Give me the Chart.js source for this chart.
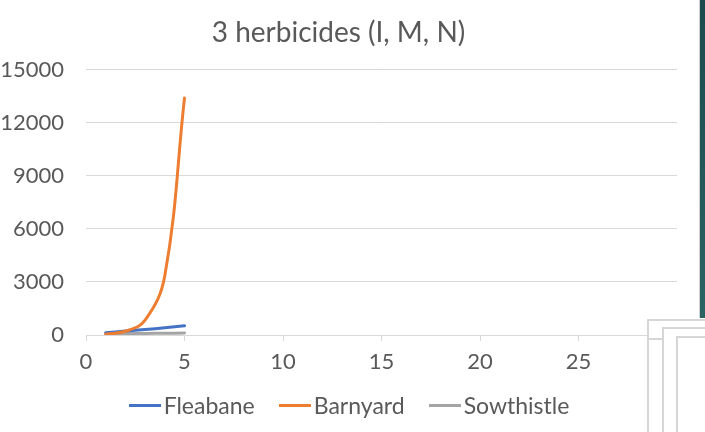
<!DOCTYPE html>
<html>
<head>
<meta charset="utf-8">
<script src="https://cdn.jsdelivr.net/npm/chart.js@4.4.1/dist/chart.umd.min.js"></script>
<style>
	body { margin: 0; background: #fff; }
	#wrap { position: relative; width: 705px; height: 432px; overflow: hidden; background: #fff; }
	#chartBox { position: absolute; left: 0; top: 0; width: 698px; height: 432px; }
	#legend-container { position: absolute; left: 0; top: 391px; width: 698px; }
	.strip { position: absolute; left: 699px; top: 0; width: 6px; height: 318px;
		border-left: 1px solid #cfcfcf; box-sizing: border-box;
		background: linear-gradient(#1c4a4c, #2b6363); }
	.frame { position: absolute; background: #fff; border: 2px solid #d6d6d6; border-right: none; border-bottom: none; }
</style>
</head>
<body>
<div id="wrap">
	<div id="chartBox"><canvas id="lineChart"></canvas></div>
	<div id="legend-container"></div>
	<div class="strip"></div>
	<div class="frame" style="left:647px;top:319px;width:70px;height:120px;"></div>
	<div style="position:absolute;left:649px;top:338px;width:14px;height:2px;background:#d6d6d6;"></div>
	<div class="frame" style="left:662px;top:327px;width:60px;height:120px;"></div>
	<div class="frame" style="left:676px;top:336px;width:40px;height:120px;"></div>
</div>
<script>
const xValues = [1, 2, 3, 4, 5];
const fleabane = [130, 220, 310, 410, 520];
const barnyard = [50, 210, 840, 3350, 13400];
const sowthistle = [70, 80, 90, 100, 110];
const yTicks = [0, 3000, 6000, 9000, 12000, 15000];

const seriesNames = ["Fleabane", "Barnyard", "Sowthistle"];
const seriesColors = ["#4472C4", "#ED7D31", "#A5A5A5"];
const drawOrder = [1, 0, 2]; // orange sits on top

const toPoints = (values) => values.map((v, i) => ({ x: xValues[i], y: v }));

// legend as html, so the line and the text sit close like in excel
const htmlLegendPlugin = {
	id: "htmlLegend",
	afterUpdate(chart, args, options) {
		const box = document.getElementById(options.containerID);
		box.innerHTML = "";
		const ul = document.createElement("ul");
		ul.style.display = "flex";
		ul.style.justifyContent = "center";
		ul.style.listStyle = "none";
		ul.style.margin = 0;
		ul.style.padding = 0;

		chart.data.datasets.forEach((ds) => {
			const li = document.createElement("li");
			li.style.display = "flex";
			li.style.alignItems = "center";
			li.style.margin = "0 12px";

			const line = document.createElement("span");
			line.style.display = "inline-block";
			line.style.width = "32px";
			line.style.height = "3px";
			line.style.background = ds.borderColor;
			line.style.marginRight = "3px";

			const text = document.createElement("span");
			text.textContent = ds.label;
			text.style.font = "23px Lato";
			text.style.color = "#595959";

			li.appendChild(line);
			li.appendChild(text);
			ul.appendChild(li);
		});
		box.appendChild(ul);
	},
};

const datasets = [fleabane, barnyard, sowthistle].map((values, i) => ({
	label: seriesNames[i],
	data: toPoints(values),
	order: drawOrder[i],
	borderColor: seriesColors[i],
	backgroundColor: seriesColors[i],
	borderWidth: 3,
	pointRadius: 0,
	tension: 0.4,
	borderCapStyle: "round",
}));

new Chart(document.getElementById("lineChart"), {
	type: "line",
	data: { datasets: datasets },
	options: {
		responsive: true,
		maintainAspectRatio: false,
		animation: false,
		layout: { padding: { left: 0, right: 21, top: 0, bottom: 57 } },
		plugins: {
			legend: { display: false },
			tooltip: { enabled: false },
			htmlLegend: { containerID: "legend-container" },
			title: {
				display: true,
				text: "3 herbicides (I, M, N)",
				color: "#595959",
				font: { family: "Lato", size: 28, weight: "normal" },
				padding: { top: 16, bottom: 20 },
			},
		},
		scales: {
			x: {
				type: "linear",
				min: 0,
				max: 30,
				afterFit: (axis) => { axis.height = 40; },
				ticks: {
					stepSize: 5,
					color: "#595959",
					font: { family: "Lato", size: 22 },
					padding: 8,
					maxRotation: 0,
				},
				grid: { drawOnChartArea: false, color: "#d9d9d9", tickLength: 6 },
				border: { color: "#d9d9d9" },
			},
			y: {
				min: 0,
				max: 15000,
				afterFit: (axis) => { axis.width = 86; },
				afterBuildTicks: (axis) => { axis.ticks = yTicks.map((v) => ({ value: v })); },
				ticks: {
					color: "#595959",
					font: { family: "Lato", size: 22 },
					padding: 22,
					callback: (v) => String(v),
				},
				grid: { color: "#d9d9d9", drawTicks: false },
				border: { display: false },
			},
		},
	},
	plugins: [htmlLegendPlugin],
});
</script>
</body>
</html>
